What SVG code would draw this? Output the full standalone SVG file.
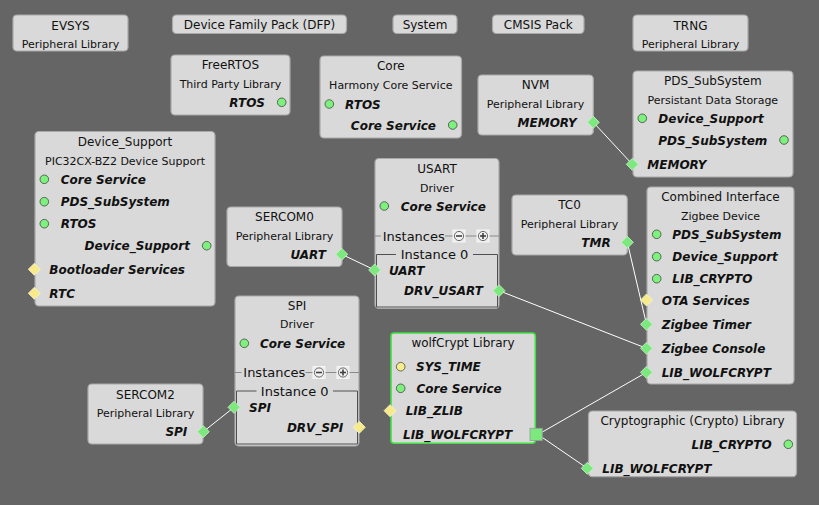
<svg xmlns="http://www.w3.org/2000/svg" width="819" height="505" viewBox="0 0 819 505">
<defs>
<style>
.bg{fill:#656565}
.n{fill:#d9d9d9;stroke:#a9a9a9;stroke-width:1.2}
.sel{fill:#d9d9d9;stroke:#3fe03f;stroke-width:1.6}
.t{font-family:"DejaVu Sans",Verdana,sans-serif;font-size:12px;fill:#111;text-anchor:middle}
.s{font-family:"DejaVu Sans",Verdana,sans-serif;font-size:11px;fill:#111;text-anchor:middle}
.l{font-family:"DejaVu Sans",Verdana,sans-serif;font-size:12px;font-weight:bold;font-style:italic;fill:#111}
.e{text-anchor:end}
.i{font-family:"DejaVu Sans",Verdana,sans-serif;font-size:13px;fill:#111}
.im{text-anchor:middle}
.gc{fill:#7ef07e;stroke:#3d4a3d;stroke-width:0.8}
.yc{fill:#f6ee8e;stroke:#4a4a3d;stroke-width:0.8}
.gd{fill:#7de87d;stroke:#c8f5c8;stroke-width:0.8}
.yd{fill:#f6ea8a;stroke:#fbf6cc;stroke-width:0.8}
.c{stroke:#ffffff;stroke-width:1;fill:none}
.il{stroke:#8a8a8a;stroke-width:1}
.ib{fill:none;stroke:#505050;stroke-width:1}
.bt{fill:#ececec;stroke:#f7f7f7;stroke-width:1}
.bc{fill:#f2f2f2;stroke:#6a6a6a;stroke-width:1}
.bs{stroke:#404040;stroke-width:1.6}
</style>
<path id="dia" d="M0,-6 L6,0 L0,6 L-6,0 Z"/>
</defs>
<rect class="bg" x="0" y="0" width="819" height="505"/>

<g id="connectors">
<line class="c" x1="593.3" y1="122.3" x2="632.3" y2="164.3"/>
<line class="c" x1="341.7" y1="254.3" x2="374.7" y2="270"/>
<line class="c" x1="499" y1="290.7" x2="646.5" y2="348.3"/>
<line class="c" x1="627.3" y1="242.3" x2="646.5" y2="324.3"/>
<line class="c" x1="203.3" y1="431.7" x2="234" y2="407.3"/>
<line class="c" x1="538" y1="434.5" x2="646.5" y2="372.3"/>
<line class="c" x1="538" y1="434.5" x2="587.3" y2="468.3"/>
</g>

<g id="evsys">
<rect class="n" x="13" y="15" width="115" height="36" rx="4"/>
<text class="t" x="70.5" y="29.5">EVSYS</text>
<text class="s" x="70.5" y="47.5">Peripheral Library</text>
</g>

<g id="dfp">
<rect class="n" x="172.5" y="15" width="174" height="18.5" rx="4"/>
<text class="t" x="259.5" y="29">Device Family Pack (DFP)</text>
</g>

<g id="system">
<rect class="n" x="393" y="15" width="64" height="18.5" rx="4"/>
<text class="t" x="425" y="29">System</text>
</g>

<g id="cmsis">
<rect class="n" x="492.5" y="15" width="91.5" height="18.5" rx="4"/>
<text class="t" x="538.3" y="29">CMSIS Pack</text>
</g>

<g id="trng">
<rect class="n" x="633" y="15" width="115" height="36" rx="4"/>
<text class="t" x="690.5" y="29.5">TRNG</text>
<text class="s" x="690.5" y="47.5">Peripheral Library</text>
</g>

<g id="freertos">
<rect class="n" x="171" y="55" width="119" height="60" rx="4"/>
<text class="t" x="230.5" y="68.8">FreeRTOS</text>
<text class="s" x="230.5" y="87.5">Third Party Library</text>
<text class="l e" x="265" y="106.8">RTOS</text>
<circle class="gc" cx="281.7" cy="102.3" r="4.3"/>
</g>

<g id="core">
<rect class="n" x="320" y="56" width="141.5" height="82" rx="4"/>
<text class="t" x="390.8" y="70.2">Core</text>
<text class="s" x="390.8" y="88.5">Harmony Core Service</text>
<circle class="gc" cx="329.3" cy="104" r="4.3"/>
<text class="l" x="345" y="108.5">RTOS</text>
<text class="l e" x="436" y="129.5">Core Service</text>
<circle class="gc" cx="452.7" cy="125" r="4.3"/>
</g>

<g id="nvm">
<rect class="n" x="478" y="75" width="115.3" height="60" rx="4"/>
<text class="t" x="535.5" y="88.8">NVM</text>
<text class="s" x="535.5" y="107.5">Peripheral Library</text>
<text class="l e" x="576.7" y="126.8">MEMORY</text>
<use href="#dia" class="gd" x="593.3" y="122.3"/>
</g>

<g id="pds">
<rect class="n" x="633" y="71" width="160" height="106" rx="4"/>
<text class="t" x="712.8" y="85.2">PDS_SubSystem</text>
<text class="s" x="712.8" y="103.5">Persistant Data Storage</text>
<circle class="gc" cx="642.3" cy="118.3" r="4.3"/>
<text class="l" x="658.3" y="122.8">Device_Support</text>
<text class="l e" x="767.3" y="144.5">PDS_SubSystem</text>
<circle class="gc" cx="784" cy="140" r="4.3"/>
<text class="l" x="647.3" y="168.8">MEMORY</text>
<use href="#dia" class="gd" x="632.3" y="164.3"/>
</g>

<g id="device_support">
<rect class="n" x="35" y="131.5" width="180" height="174.5" rx="4"/>
<text class="t" x="125" y="146.2">Device_Support</text>
<text class="s" x="125" y="164.8">PIC32CX-BZ2 Device Support</text>
<circle class="gc" cx="44.3" cy="179.3" r="4.3"/>
<text class="l" x="60.7" y="183.8">Core Service</text>
<circle class="gc" cx="44.3" cy="201.7" r="4.3"/>
<text class="l" x="60.7" y="206.2">PDS_SubSystem</text>
<circle class="gc" cx="44.3" cy="223.7" r="4.3"/>
<text class="l" x="60.7" y="228.2">RTOS</text>
<text class="l e" x="190" y="250.2">Device_Support</text>
<circle class="gc" cx="206.7" cy="245.7" r="4.3"/>
<text class="l" x="49.3" y="273.8">Bootloader Services</text>
<use href="#dia" class="yd" x="34.3" y="269.3"/>
<text class="l" x="49.3" y="297.8">RTC</text>
<use href="#dia" class="yd" x="34.3" y="293.3"/>
</g>

<g id="sercom0">
<rect class="n" x="227" y="207" width="115" height="59.5" rx="4"/>
<text class="t" x="284.5" y="221.2">SERCOM0</text>
<text class="s" x="284.5" y="239.8">Peripheral Library</text>
<text class="l e" x="326" y="258.8">UART</text>
<use href="#dia" class="gd" x="341.7" y="254.3"/>
</g>

<g id="usart">
<rect class="n" x="375" y="158.5" width="124" height="150" rx="4"/>
<text class="t" x="437" y="172.8">USART</text>
<text class="s" x="437" y="191.8">Driver</text>
<circle class="gc" cx="384.3" cy="206" r="4.3"/>
<text class="l" x="400.7" y="210.5">Core Service</text>
<line class="il" x1="375" y1="236" x2="381" y2="236"/>
<line class="il" x1="445" y1="236" x2="453" y2="236"/>
<line class="il" x1="465" y1="236" x2="477" y2="236"/>
<line class="il" x1="489" y1="236" x2="499" y2="236"/>
<text class="i" x="382.7" y="240.8">Instances</text>
<rect class="bt" x="453" y="230" width="12" height="12"/>
<circle class="bc" cx="459" cy="236" r="4.6"/>
<line class="bs" x1="456" y1="236" x2="462" y2="236"/>
<rect class="bt" x="477" y="230" width="12" height="12"/>
<circle class="bc" cx="483" cy="236" r="4.6"/>
<line class="bs" x1="480" y1="236" x2="486" y2="236"/>
<line class="bs" x1="483" y1="233" x2="483" y2="239"/>
<path class="ib" d="M396,254.5 H376.5 V307 H497.5 V254.5 H473"/>
<text class="i im" x="434.5" y="259.2">Instance 0</text>
<text class="l" x="389" y="274.5">UART</text>
<use href="#dia" class="gd" x="374.7" y="270"/>
<text class="l e" x="483" y="295.2">DRV_USART</text>
<use href="#dia" class="gd" x="499" y="290.7"/>
</g>

<g id="tc0">
<rect class="n" x="512" y="195" width="115.3" height="60" rx="4"/>
<text class="t" x="569.5" y="208.8">TC0</text>
<text class="s" x="569.5" y="227.5">Peripheral Library</text>
<text class="l e" x="610.7" y="246.8">TMR</text>
<use href="#dia" class="gd" x="627.3" y="242.3"/>
</g>

<g id="combined">
<rect class="n" x="647" y="187" width="147" height="197" rx="4"/>
<text class="t" x="720.5" y="201.2">Combined Interface</text>
<text class="s" x="720.5" y="219.8">Zigbee Device</text>
<circle class="gc" cx="656.7" cy="234.3" r="4.3"/>
<text class="l" x="672.3" y="238.8">PDS_SubSystem</text>
<circle class="gc" cx="656.7" cy="256.7" r="4.3"/>
<text class="l" x="672.3" y="261.2">Device_Support</text>
<circle class="gc" cx="656.7" cy="278.7" r="4.3"/>
<text class="l" x="672.3" y="283.2">LIB_CRYPTO</text>
<text class="l" x="661.7" y="304.5">OTA Services</text>
<use href="#dia" class="yd" x="646.5" y="300"/>
<text class="l" x="661.7" y="328.8">Zigbee Timer</text>
<use href="#dia" class="gd" x="646.5" y="324.3"/>
<text class="l" x="661.7" y="352.8">Zigbee Console</text>
<use href="#dia" class="gd" x="646.5" y="348.3"/>
<text class="l" x="661.7" y="376.8">LIB_WOLFCRYPT</text>
<use href="#dia" class="gd" x="646.5" y="372.3"/>
</g>

<g id="spi">
<rect class="n" x="235" y="296" width="124" height="150" rx="4"/>
<text class="t" x="297" y="310.2">SPI</text>
<text class="s" x="297" y="328.3">Driver</text>
<circle class="gc" cx="244.3" cy="343.3" r="4.3"/>
<text class="l" x="260" y="347.8">Core Service</text>
<line class="il" x1="235" y1="372.5" x2="241.5" y2="372.5"/>
<line class="il" x1="305.5" y1="372.5" x2="313" y2="372.5"/>
<line class="il" x1="325" y1="372.5" x2="337" y2="372.5"/>
<line class="il" x1="349" y1="372.5" x2="359" y2="372.5"/>
<text class="i" x="243.3" y="377.2">Instances</text>
<rect class="bt" x="313" y="366.5" width="12" height="12"/>
<circle class="bc" cx="319" cy="372.5" r="4.6"/>
<line class="bs" x1="316" y1="372.5" x2="322" y2="372.5"/>
<rect class="bt" x="337" y="366.5" width="12" height="12"/>
<circle class="bc" cx="343" cy="372.5" r="4.6"/>
<line class="bs" x1="340" y1="372.5" x2="346" y2="372.5"/>
<line class="bs" x1="343" y1="369.5" x2="343" y2="375.5"/>
<path class="ib" d="M256.5,391 H236.5 V444 H357.5 V391 H333"/>
<text class="i im" x="294.7" y="395.8">Instance 0</text>
<text class="l" x="249" y="411.8">SPI</text>
<use href="#dia" class="gd" x="234" y="407.3"/>
<text class="l e" x="343.3" y="431.8">DRV_SPI</text>
<use href="#dia" class="yd" x="359.3" y="427.3"/>
</g>

<g id="sercom2">
<rect class="n" x="88" y="384" width="115" height="60" rx="4"/>
<text class="t" x="145.5" y="398.5">SERCOM2</text>
<text class="s" x="145.5" y="416.8">Peripheral Library</text>
<text class="l e" x="187.3" y="436.2">SPI</text>
<use href="#dia" class="gd" x="203.3" y="431.7"/>
</g>

<g id="wolfcrypt">
<rect class="sel" x="391" y="333" width="144.3" height="110.3" rx="3"/>
<text class="t" x="463" y="346.8">wolfCrypt Library</text>
<circle class="yc" cx="400.7" cy="366.7" r="4.3"/>
<text class="l" x="416" y="371.2">SYS_TIME</text>
<circle class="gc" cx="400.7" cy="388.3" r="4.3"/>
<text class="l" x="416.5" y="392.8">Core Service</text>
<text class="l" x="405.7" y="415.2">LIB_ZLIB</text>
<use href="#dia" class="yd" x="390" y="410.7"/>
<text class="l" x="403" y="438.5">LIB_WOLFCRYPT</text>
<rect x="530" y="428.3" width="12.3" height="12.3" fill="#7de87d" stroke="#9a9a9a" stroke-width="0.8"/>
</g>

<g id="crypto">
<rect class="n" x="588.5" y="411" width="208" height="65.7" rx="4"/>
<text class="t" x="692.5" y="425.2">Cryptographic (Crypto) Library</text>
<text class="l e" x="771.7" y="448.8">LIB_CRYPTO</text>
<circle class="gc" cx="788.3" cy="444.3" r="4.3"/>
<text class="l" x="602.3" y="472.8">LIB_WOLFCRYPT</text>
<use href="#dia" class="gd" x="587.3" y="468.3"/>
</g>
</svg>
